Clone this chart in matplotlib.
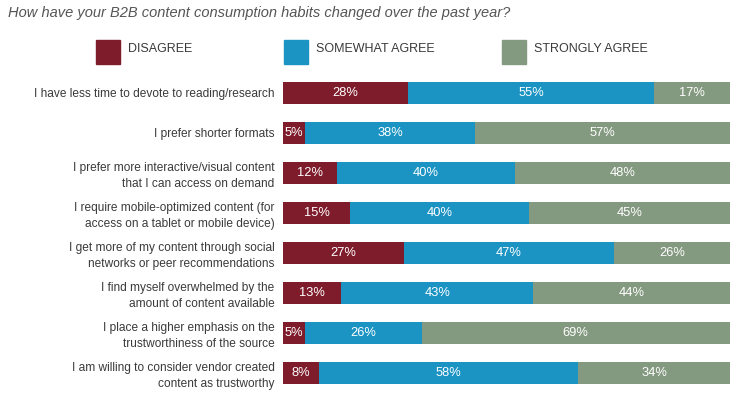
import matplotlib
matplotlib.use("Agg")
import matplotlib.pyplot as plt
import numpy as np

categories = [
    "I have less time to devote to reading/research",
    "I prefer shorter formats",
    "I prefer more interactive/visual content\nthat I can access on demand",
    "I require mobile-optimized content (for\naccess on a tablet or mobile device)",
    "I get more of my content through social\nnetworks or peer recommendations",
    "I find myself overwhelmed by the\namount of content available",
    "I place a higher emphasis on the\ntrustworthiness of the source",
    "I am willing to consider vendor created\ncontent as trustworthy",
]
disagree = [28, 5, 12, 15, 27, 13, 5, 8]
somewhat = [55, 38, 40, 40, 47, 43, 26, 58]
strongly = [17, 57, 48, 45, 26, 44, 69, 34]

series_names = ["DISAGREE", "SOMEWHAT AGREE", "STRONGLY AGREE"]
colors = ["#7e1c2b", "#1b93c3", "#849a80"]

plt.rcParams['font.family'] = ['Liberation Sans', 'DejaVu Sans']

fig = plt.figure(figsize=(7.56, 3.97), dpi=100)
ax = fig.add_axes([283 / 756, 1 - 393 / 397, 447 / 756, 320 / 397])

y = np.arange(len(categories))
left = np.zeros(len(categories))
for name, vals, c in zip(series_names, [disagree, somewhat, strongly], colors):
    vals = np.array(vals, dtype=float)
    bars = ax.barh(y, vals, left=left, height=0.55, color=c, edgecolor="none")
    for rect, v in zip(bars, vals):
        ax.text(rect.get_x() + rect.get_width() / 2, rect.get_y() + rect.get_height() / 2,
                f"{int(v)}%", ha="center", va="center", color="white", fontsize=9.3)
    left += vals

ax.set_xlim(0, 100)
ax.set_ylim(len(categories) - 0.5, -0.5)
ax.set_yticks(y)
ax.set_yticklabels(categories, fontsize=8.6, color="#3a3a3a", linespacing=1.35)
ax.tick_params(axis="y", length=0, pad=6)
ax.set_xticks([])
for s in ax.spines.values():
    s.set_visible(False)

fig.text(8 / 756, 1 - 13 / 397, "How have your B2B content consumption habits changed over the past year?",
         fontsize=10.5, style="italic", color="#555555", ha="left", va="center")

# legend
leg_x = [96, 284, 502]
for name, c, lx in zip(series_names, colors, leg_x):
    fig.patches.append(plt.Rectangle((lx / 756, 1 - 64 / 397), 24 / 756, 24 / 397,
                                     transform=fig.transFigure, color=c))
    fig.text((lx + 32) / 756, 1 - 49 / 397, name, fontsize=9, color="#3a3a3a",
             ha="left", va="center")

plt.savefig("out.png", dpi=100)
